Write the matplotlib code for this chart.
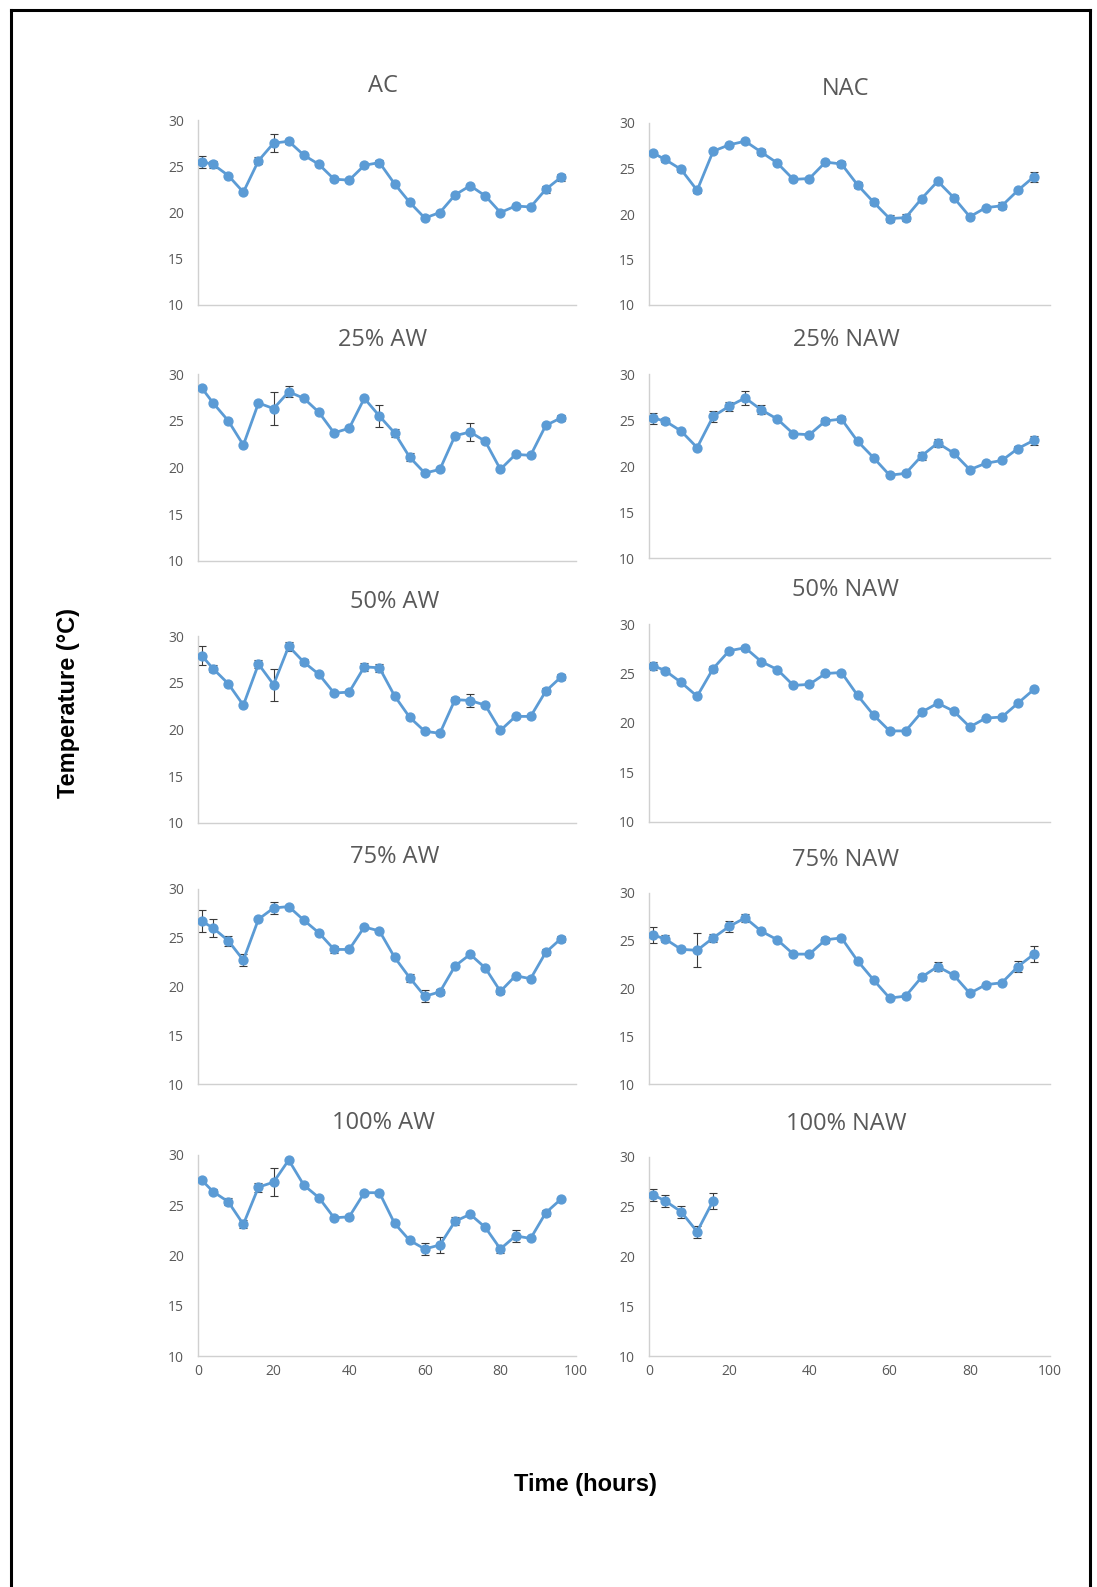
import numpy as np
import matplotlib
matplotlib.use("Agg")
import matplotlib.pyplot as plt
from matplotlib.lines import Line2D

# sampling times (hours)
hours = [1, 4, 8, 12, 16, 20, 24, 28, 32, 36, 40, 44, 48,
         52, 56, 60, 64, 68, 72, 76, 80, 84, 88, 92, 96]

# mean temperature (°C) and error per treatment
ac = [25.5, 25.2, 24.0, 22.2, 25.6, 27.5, 27.7, 26.2, 25.2, 23.6, 23.5, 25.1, 25.4,
      23.1, 21.1, 19.4, 20.0, 21.9, 22.9, 21.8, 20.0, 20.7, 20.6, 22.5, 23.8]
ac_err = [0.65, 0.35, 0.15, 0.15, 0.4, 0.95, 0.25, 0.15, 0.15, 0.15, 0.15, 0.2, 0.25,
          0.15, 0.15, 0.2, 0.15, 0.15, 0.15, 0.2, 0.15, 0.15, 0.2, 0.35, 0.4]

nac = [26.7, 26.0, 24.9, 22.6, 26.9, 27.6, 28.0, 26.8, 25.6, 23.8, 23.9, 25.7, 25.5,
       23.2, 21.3, 19.5, 19.6, 21.7, 23.6, 21.8, 19.7, 20.7, 20.9, 22.6, 24.1]
nac_err = [0.2, 0.3, 0.3, 0.25, 0.15, 0.2, 0.2, 0.3, 0.2, 0.15, 0.15, 0.15, 0.35,
           0.3, 0.35, 0.4, 0.35, 0.2, 0.3, 0.3, 0.2, 0.15, 0.4, 0.2, 0.55]

aw25 = [28.5, 26.9, 25.0, 22.4, 26.9, 26.3, 28.1, 27.4, 25.9, 23.7, 24.2, 27.4, 25.5,
        23.7, 21.1, 19.4, 19.8, 23.4, 23.8, 22.8, 19.8, 21.4, 21.3, 24.5, 25.3]
aw25_err = [0.15, 0.15, 0.15, 0.15, 0.15, 1.75, 0.6, 0.2, 0.15, 0.2, 0.15, 0.15, 1.2,
            0.4, 0.4, 0.2, 0.15, 0.2, 1.0, 0.15, 0.2, 0.15, 0.2, 0.2, 0.3]

naw25 = [25.2, 24.9, 23.8, 22.0, 25.4, 26.5, 27.4, 26.1, 25.1, 23.5, 23.4, 24.9, 25.1,
         22.7, 20.9, 19.0, 19.2, 21.1, 22.5, 21.4, 19.6, 20.3, 20.6, 21.9, 22.8]
naw25_err = [0.6, 0.35, 0.15, 0.15, 0.6, 0.5, 0.75, 0.5, 0.2, 0.15, 0.15, 0.35, 0.3,
             0.15, 0.15, 0.15, 0.15, 0.4, 0.45, 0.2, 0.2, 0.15, 0.2, 0.3, 0.5]

aw50 = [27.9, 26.5, 24.9, 22.6, 27.0, 24.8, 28.9, 27.2, 25.9, 23.9, 24.0, 26.7, 26.6,
        23.6, 21.3, 19.8, 19.6, 23.2, 23.1, 22.6, 19.9, 21.4, 21.4, 24.1, 25.6]
aw50_err = [1.0, 0.4, 0.2, 0.2, 0.4, 1.7, 0.5, 0.3, 0.15, 0.15, 0.15, 0.4, 0.4,
            0.15, 0.15, 0.2, 0.2, 0.3, 0.7, 0.15, 0.2, 0.15, 0.15, 0.3, 0.3]

naw50 = [25.8, 25.3, 24.1, 22.7, 25.5, 27.3, 27.6, 26.2, 25.4, 23.8, 23.9, 25.0, 25.1,
         22.8, 20.8, 19.2, 19.2, 21.1, 22.0, 21.2, 19.6, 20.5, 20.6, 22.0, 23.4]
naw50_err = [0.4, 0.25, 0.2, 0.2, 0.3, 0.2, 0.15, 0.2, 0.15, 0.15, 0.15, 0.15, 0.2,
             0.15, 0.2, 0.15, 0.15, 0.15, 0.15, 0.15, 0.15, 0.15, 0.15, 0.15, 0.2]

aw75 = [26.7, 26.0, 24.7, 22.7, 26.9, 28.05, 28.2, 26.8, 25.5, 23.8, 23.8, 26.1, 25.7,
        23.0, 20.9, 19.0, 19.45, 22.1, 23.3, 21.9, 19.5, 21.1, 20.8, 23.5, 24.9]
aw75_err = [1.15, 0.95, 0.5, 0.6, 0.15, 0.6, 0.2, 0.15, 0.15, 0.4, 0.15, 0.15, 0.15,
            0.15, 0.4, 0.6, 0.3, 0.15, 0.2, 0.15, 0.3, 0.15, 0.2, 0.3, 0.3]

naw75 = [25.6, 25.2, 24.1, 24.0, 25.3, 26.5, 27.4, 26.0, 25.1, 23.6, 23.6, 25.1, 25.3,
         22.9, 20.9, 19.0, 19.2, 21.2, 22.3, 21.4, 19.5, 20.4, 20.6, 22.3, 23.6]
naw75_err = [0.85, 0.35, 0.15, 1.8, 0.4, 0.55, 0.4, 0.15, 0.15, 0.15, 0.15, 0.3, 0.2,
             0.15, 0.15, 0.15, 0.15, 0.3, 0.45, 0.15, 0.15, 0.15, 0.15, 0.6, 0.8]

aw100 = [27.5, 26.35, 25.35, 23.1, 26.8, 27.3, 29.5, 27.0, 25.75, 23.75, 23.85, 26.25, 26.25,
         23.2, 21.5, 20.65, 21.05, 23.4, 24.1, 22.8, 20.65, 21.95, 21.7, 24.25, 25.6]
aw100_err = [0.15, 0.25, 0.35, 0.4, 0.45, 1.4, 0.15, 0.15, 0.15, 0.15, 0.15, 0.15, 0.15,
             0.15, 0.15, 0.6, 0.8, 0.4, 0.15, 0.15, 0.4, 0.6, 0.15, 0.3, 0.15]

# the 100% NAW run stopped after 16 h
naw100 = [26.2, 25.6, 24.5, 22.5, 25.6]
naw100_err = [0.6, 0.6, 0.6, 0.6, 0.8]

W, H = 1097, 1587
BLUE = "#5B9BD5"
GREY = "#595959"

# title, values, errors, column, y(30) px, y(10) px, title centre px
panels = [
    ("AC", ac, ac_err, 0, 120, 305, (383, 86)),
    ("NAC", nac, nac_err, 1, 123, 305, (846, 89)),
    ("25% AW", aw25, aw25_err, 0, 374, 561, (383, 340)),
    ("25% NAW", naw25, naw25_err, 1, 374, 558, (846, 340)),
    ("50% AW", aw50, aw50_err, 0, 636, 823, (395, 602)),
    ("50% NAW", naw50, naw50_err, 1, 624, 822, (846, 590)),
    ("75% AW", aw75, aw75_err, 0, 889, 1084, (395, 857)),
    ("75% NAW", naw75, naw75_err, 1, 893, 1084, (846, 860)),
    ("100% AW", aw100, aw100_err, 0, 1155, 1356, (383, 1123)),
    ("100% NAW", naw100, naw100_err, 1, 1157, 1356, (846, 1124)),
]
col_x = [(198, 576), (649, 1050)]

plt.rcParams["font.family"] = ["Open Sans", "DejaVu Sans"]

fig = plt.figure(figsize=(W / 100, H / 100), dpi=100)

for name, vals, errs, col, y30, y10, (tx, ty) in panels:
    x0, x1 = col_x[col]
    ax = fig.add_axes([x0 / W, 1 - y10 / H, (x1 - x0) / W, (y10 - y30) / H])
    t = hours[:len(vals)]
    ax.errorbar(t, vals, yerr=errs, fmt="none", ecolor="#3a3a3a",
                elinewidth=0.8, capsize=2.8, capthick=0.8, zorder=2)
    ax.plot(t, vals, color=BLUE, lw=2.0, marker="o", ms=6.4,
            markeredgecolor=BLUE, zorder=3)
    ax.set_xlim(0, 100)
    ax.set_ylim(10, 30)
    ax.set_yticks([10, 15, 20, 25, 30])
    ax.set_xticks([0, 20, 40, 60, 80, 100])
    for s in ["top", "right"]:
        ax.spines[s].set_visible(False)
    for s in ["left", "bottom"]:
        ax.spines[s].set_color("#D0D0D0")
        ax.spines[s].set_linewidth(1.0)
    ax.tick_params(length=0, labelsize=10, labelcolor=GREY)
    ax.tick_params(axis="y", pad=10)
    ax.tick_params(axis="x", pad=6)
    if name not in ("100% AW", "100% NAW"):
        ax.set_xticklabels([])
    fig.text(tx / W, 1 - ty / H, name, ha="center", va="center",
             fontsize=17, color=GREY)

fig.text(69 / W, 1 - 703 / H, "Temperature (°C)", rotation=90, ha="center",
         va="center", fontsize=17, fontweight="bold", family="Liberation Sans")
fig.text(585 / W, 1 - 1484 / H, "Time (hours)", ha="center", va="center",
         fontsize=17, fontweight="bold", family="Liberation Sans")

# frame around the figure (open at the bottom)
frame = dict(color="black", lw=2.2, transform=fig.transFigure)
fig.add_artist(Line2D([11 / W, 11 / W], [0, 1 - 10 / H], **frame))
fig.add_artist(Line2D([11 / W, 1090 / W], [1 - 10 / H, 1 - 10 / H], **frame))
fig.add_artist(Line2D([1090 / W, 1090 / W], [0, 1 - 10 / H], **frame))

fig.savefig("out.png", dpi=100)
